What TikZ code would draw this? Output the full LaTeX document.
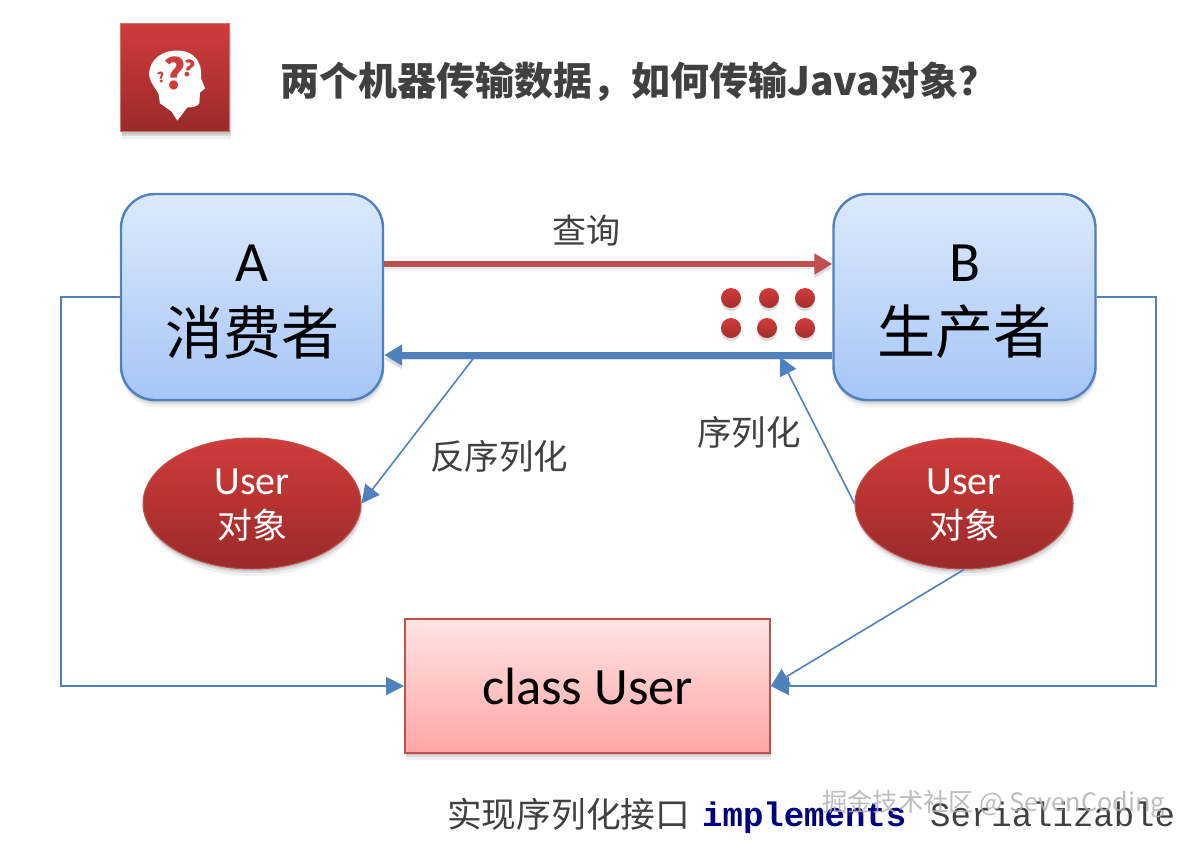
\documentclass[tikz,border=0pt]{standalone}
\usepackage{fontspec}
\setmainfont{Carlito}
\newfontfamily\cjk{Noto Sans CJK SC}
\newcommand{\cjkb}{\cjk\bfseries}
\newfontfamily\cour{Liberation Mono}
\usetikzlibrary{shapes.geometric,arrows.meta,shadows}
\newcommand{\fs}[1]{\fontsize{#1}{#1}\selectfont}
\definecolor{boxedge}{HTML}{4F81BD}
\definecolor{redarrow}{HTML}{C0504D}
\definecolor{txt}{HTML}{404040}
\definecolor{bluetop}{HTML}{DCE9FC}
\definecolor{bluebot}{HTML}{A6C6F7}
\definecolor{redtop}{HTML}{D03C3A}
\definecolor{redbot}{HTML}{9A2A2A}
\definecolor{pinktop}{HTML}{FFE4E4}
\definecolor{pinkbot}{HTML}{FFA6A6}
\tikzset{
  softshadow/.style={drop shadow={shadow xshift=1pt,shadow yshift=-7pt,opacity=.06,fill=black},
                     drop shadow={shadow xshift=1pt,shadow yshift=-4pt,opacity=.09,fill=black},
                     drop shadow={shadow xshift=0pt,shadow yshift=-2pt,opacity=.10,fill=black}},
  endpoint/.style={draw=boxedge,line width=2.4pt,rounded corners=34pt,minimum width=262pt,minimum height=206pt,inner sep=0pt,
     top color=bluetop,bottom color=bluebot,softshadow},
  userobj/.style={ellipse,draw=redarrow,line width=1pt,minimum width=218pt,minimum height=131pt,inner sep=0pt,
     top color=redtop,bottom color=redbot,softshadow},
  classbox/.style={draw=redarrow,line width=1.8pt,minimum width=365pt,minimum height=134pt,inner sep=0pt,
     top color=pinktop,bottom color=pinkbot,softshadow,text=black},
  dotnode/.style={circle,minimum size=20pt,inner sep=0pt,top color=redtop,bottom color=redbot!80!redtop,drop shadow={shadow xshift=0pt,shadow yshift=-3pt,opacity=.15,fill=black}},
  iconbox/.style={minimum width=109pt,minimum height=108pt,inner sep=0pt,draw=redarrow!80!white,line width=.8pt,
     top color=redtop,bottom color=redbot,softshadow},
  plain/.style={inner sep=0pt,text=txt},
  boxletter/.style={inner sep=0pt,text=black,font=\fs{57}},
  boxword/.style={inner sep=0pt,text=black,font=\cjk\fs{58}},
  objline/.style={inner sep=0pt,text=white},
  qmark/.style={inner sep=0pt,text=redtop,font=\cjkb},
  conn/.style={draw=boxedge,line width=1.6pt,-{Triangle[length=18pt,width=18pt,fill=boxedge]}},
  lineshadow/.style={preaction={draw=black,opacity=.12,transform canvas={yshift=-4pt}}},
  bigred/.style={draw=redarrow,line width=6pt,lineshadow,-{Triangle[length=18pt,width=20pt,fill=redarrow]}},
  bigblue/.style={draw=boxedge,line width=7pt,lineshadow,-{Triangle[length=18pt,width=20pt,fill=boxedge]}},
}
\begin{document}
\begin{tikzpicture}[x=1pt,y=-1pt]
\useasboundingbox (0,0) rectangle (1188,844);
\fill[white] (0,0) rectangle (1188,844);
% icon
\node[iconbox] (icon) at (175,77.5) {};
\begin{scope}[shift={(100,10)},scale=1/3]
\fill[white] (175,250) .. controls (160,225) and (140,205) .. (150,175)
  .. controls (160,135) and (205,118) .. (240,122)
  .. controls (285,125) and (308,160) .. (303,205)
  -- (315,235) -- (300,248) -- (298,280) .. controls (290,292) and (275,292) .. (262,292)
  -- (232,332) -- (215,305) -- (180,280) -- cycle;
\end{scope}
\node[qmark,font=\cjkb\fs{42}] (q1) at (175,73) {?};
\node[qmark,font=\cjkb\fs{22},rotate=-12] (q2) at (189,68) {?};
\node[qmark,font=\cjkb\fs{14},rotate=10] (q3) at (161,78) {?};
% title
\node[plain,anchor=west,font=\cjkb\fs{39}] (title) at (280,82) {两个机器传输数据，如何传输Java对象？};
% boxes
\node[endpoint] (A) at (252,297) {};
\node[endpoint] (B) at (964.5,297) {};
\node[boxletter] (Al) at (252,263) {A};
\node[boxword] (Aw) at (252,332) {消费者};
\node[boxletter] (Bl) at (964.5,263) {B};
\node[boxword] (Bw) at (964.5,332) {生产者};
\node[userobj] (U1) at (252,503.5) {};
\node[userobj] (U2) at (964,503.5) {};
\node[objline,font=\fs{40}] (U1a) at (252,482) {User};
\node[objline,font=\cjk\fs{35}] (U1b) at (252,525) {对象};
\node[objline,font=\fs{40}] (U2a) at (964,482) {User};
\node[objline,font=\cjk\fs{35}] (U2b) at (964,525) {对象};
\node[classbox] (class) at (587.5,686) {\fs{52.5}class User};
% dots
\node[dotnode] (d1) at (731,298) {};
\node[dotnode] (d2) at (769,298) {};
\node[dotnode] (d3) at (805,298) {};
\node[dotnode] (d4) at (731,328) {};
\node[dotnode] (d5) at (767,328) {};
\node[dotnode] (d6) at (805,328) {};
% thick arrows
\draw[bigred] (A.east |- 0,264) -- (B.west |- 0,264);
\draw[bigblue] (B.west |- 0,355) -- (A.east |- 0,355);
\coordinate (onblueL) at (476,355);
\coordinate (onblueR) at (780,357);
\coordinate (U1r) at (361,503);
% connectors
\draw[conn] (onblueL) -- (U1.east);
\draw[conn] (U2.west) -- (onblueR);
\draw[conn] (U2.south) -- (class.east);
\draw[conn] (A.west) -- ++(-59,0) |- (class.west);
\draw[conn] (B.east) -- ++(59,0) |- (class.east);
% labels
\node[plain,font=\cjk\fs{34}] (query) at (586,231) {查询};
\node[plain,font=\cjk\fs{34.5}] (deser) at (499,456) {反序列化};
\node[plain,font=\cjk\fs{34.5}] (ser) at (749,432) {序列化};
\node[plain,anchor=west,font=\cjk\fs{34.7}] (impl) at (447,814) {实现序列化接口};
\node[inner sep=0pt,anchor=base west,text=blue!50!black,font=\cour\bfseries\fs{34}] (kw) at (702,826) {implements};
\node[inner sep=0pt,anchor=base west,text=black!75,font=\cour\fs{34}] (ser2) at (930,826) {Serializable};
\node[inner sep=0pt,anchor=west,text=gray!60,opacity=.85,font=\cjk\fs{25.3}] (wm) at (822,804) {掘金技术社区 @ SevenCoding};
\end{tikzpicture}
\end{document}
